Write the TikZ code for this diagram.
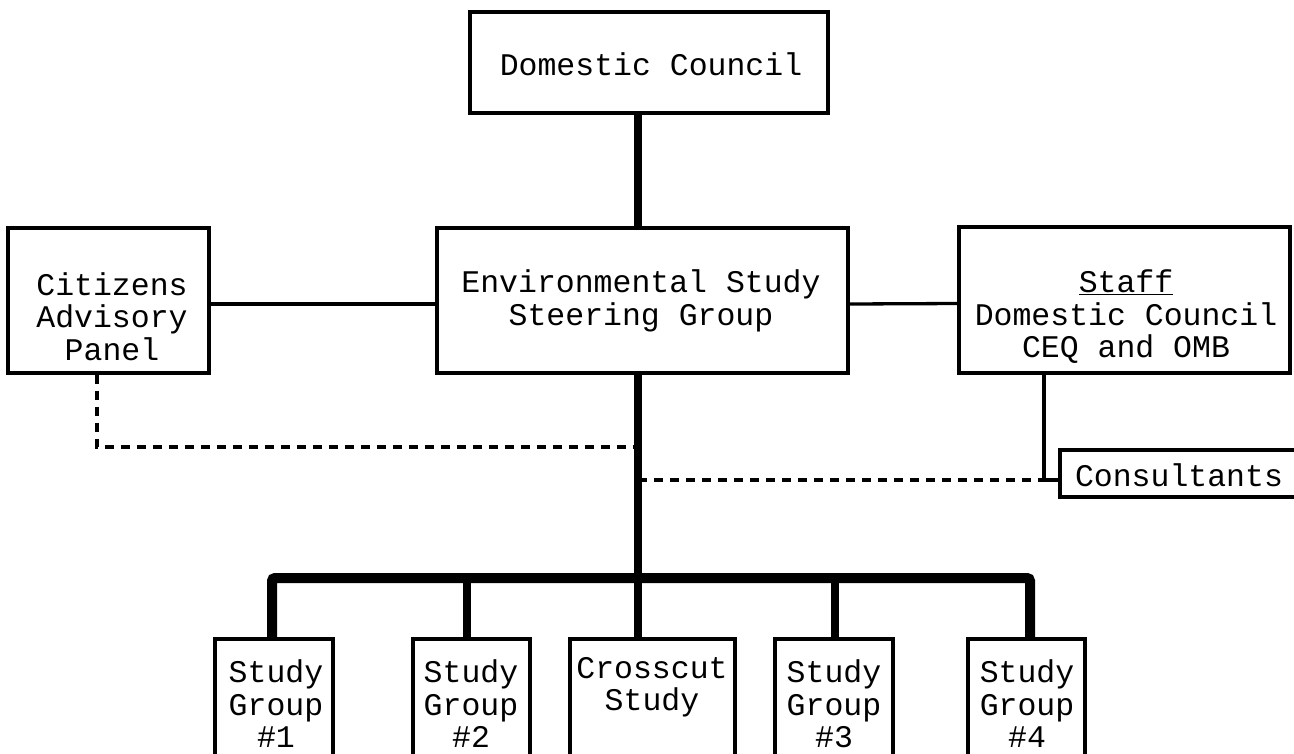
\documentclass[tikz,border=0pt]{standalone}
\usepackage{fontspec}
\newfontfamily\typewr{Liberation Mono}

\begin{document}
\begin{tikzpicture}[x=1pt, y=-1pt,
    box/.style={draw, line width=3.5pt, inner sep=0pt},
    lbl/.style={align=center, inner sep=0pt, font=\typewr\fontsize{31.5}{32.5}\selectfont},
    link/.style={line width=3.3pt},
    heavy/.style={line width=8.5pt},
    dashlink/.style={line width=3.6pt, dash pattern=on 9pt off 7pt}]
    \useasboundingbox (0,0) rectangle (1294,753);

    \node[box, minimum width=358, minimum height=101] (dom)   at (649,62.5)    {};
    \node[box, minimum width=411, minimum height=145] (env)   at (642.5,300.5) {};
    \node[box, minimum width=201, minimum height=145] (cit)   at (108.5,300.5) {};
    \node[box, minimum width=331, minimum height=146] (staff) at (1124.5,300)  {};
    \node[box, minimum width=250, minimum height=47]  (cons)  at (1185,473.5)  {};
    \node[box, minimum width=118, minimum height=136] (sg1)   at (274,707)     {};
    \node[box, minimum width=117, minimum height=136] (sg2)   at (471.5,707)   {};
    \node[box, minimum width=165, minimum height=136] (cross) at (652.5,707)   {};
    \node[box, minimum width=118, minimum height=136] (sg3)   at (834,707)     {};
    \node[box, minimum width=117, minimum height=136] (sg4)   at (1026.5,707)  {};

    \node[lbl] (dom-t)   at (651,64)     {Domestic Council};
    \node[lbl] (env-t)   at (641,301)    {Environmental Study\\Steering Group};
    \node[lbl] (cit-t)   at (112,316.5)  {Citizens\\Advisory\\Panel};
    \node[lbl] (staff-t) at (1126,317)   {\underline{Staff}\\Domestic Council\\CEQ and OMB};
    \node[lbl] (cons-t)  at (1179,475)   {Consultants};
    \node[lbl] (sg1-t)   at (276,704)    {Study\\Group\\\#1};
    \node[lbl] (sg2-t)   at (471,704)    {Study\\Group\\\#2};
    \node[lbl] (cross-t) at (652,687)    {Crosscut\\Study};
    \node[lbl] (sg3-t)   at (834,704)    {Study\\Group\\\#3};
    \node[lbl] (sg4-t)   at (1027,704)   {Study\\Group\\\#4};

    \coordinate (jn) at (638,578);
    \coordinate (s1) at (272,578);
    \coordinate (s2) at (467,578);
    \coordinate (s3) at (835,578);
    \coordinate (s4) at (1030,578);
    \coordinate (cd) at (97,447);
    \coordinate (ck) at (1044,480);

    \draw[heavy] (dom.south -| jn) -- (env.north -| jn);
    \draw[heavy] (env.south -| jn) -- (cross.north -| jn);
    \draw[heavy, line width=10pt, rounded corners=3pt] (sg1.north -| s1) -- (s1) -- (s4) -- (sg4.north -| s4);
    \draw[heavy] (s2) -- (sg2.north -| s2);
    \draw[heavy] (s3) -- (sg3.north -| s3);
    \draw[link] ([yshift=-3.5pt]cit.east) -- ([yshift=-3.5pt]env.west);
    \draw[link] ([yshift=-3.5pt]env.east) -- ([yshift=-3.5pt]staff.west);
    \draw[link] (staff.south -| ck) -- (ck) -- (cons.west |- ck);
    \draw[dashlink] (cit.south -| cd) -- (cd) -- (cd -| jn);
    \draw[dashlink] (jn |- ck) -- (ck);
\end{tikzpicture}
\end{document}
